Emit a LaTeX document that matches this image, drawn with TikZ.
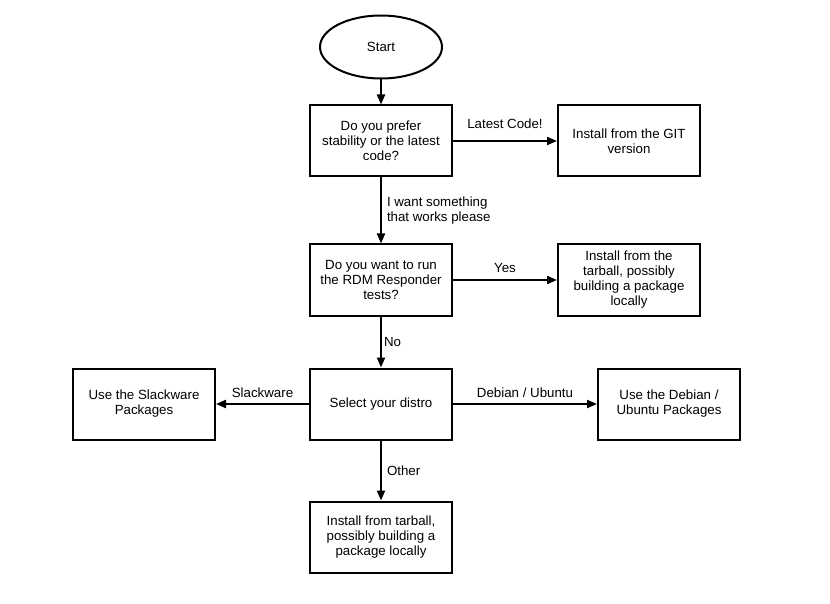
\documentclass[tikz,border=0pt]{standalone}
\usepackage{fontspec}
\setmainfont{Liberation Sans}
\usetikzlibrary{shapes.geometric, arrows.meta, positioning}
\tikzset{
  terminal/.style={ellipse,draw=black,line width=2pt,fill=white,minimum width=122pt,minimum height=63pt,font=\fontsize{13.3}{15}\selectfont},
  action/.style={rectangle,draw=black,line width=2pt,fill=white,minimum width=142pt,minimum height=71pt,align=center,font=\fontsize{13.3}{15}\selectfont},
  flow/.style={line width=2pt,-{Triangle[length=10pt,width=8pt]}},
  flowlabel/.style={font=\fontsize{13.3}{15}\selectfont,inner sep=2pt},
}

\begin{document}
\begin{tikzpicture}
	    \useasboundingbox[fill=white] (0,0) rectangle (830pt,-604pt);
	    \node[terminal] (start) at (381pt,-47pt) {Start};
	    \node[action,below=25pt of start] (prefer) {Do you prefer\\stability or the latest\\code?};
	    \node[action,right=104pt of prefer] (git) {Install from the GIT\\version};
	    \node[action,below=66pt of prefer] (tests) {Do you want to run\\the RDM Responder\\tests?};
	    \node[action,right=104pt of tests] (tarball) {Install from the\\tarball, possibly\\building a package\\locally};
	    \node[action,below=51pt of tests] (distro) {Select your distro};
	    \node[action,left=93pt of distro] (slack) {Use the Slackware\\Packages};
	    \node[action,right=144pt of distro] (debian) {Use the Debian /\\Ubuntu Packages};
	    \node[action,below=60pt of distro] (local) {Install from tarball,\\possibly building a\\package locally};
	    \draw[flow] (start) -- (prefer);
	    \draw[flow] (prefer) -- node[flowlabel,above=9pt] {Latest Code!} (git);
	    \draw[flow] (prefer) -- node[flowlabel,right=3pt,align=left] {I want something\\that works please} (tests);
	    \draw[flow] (tests) -- node[flowlabel,above=4pt] {Yes} (tarball);
	    \draw[flow] (tests) -- node[flowlabel,right] {No} (distro);
	    \draw[flow] (distro) -- node[flowlabel,above=3pt] {Slackware} (slack);
	    \draw[flow] (distro) -- node[flowlabel,above=3pt] {Debian / Ubuntu} (debian);
	    \draw[flow] (distro) -- node[flowlabel,right=3pt] {Other} (local);
	\end{tikzpicture}
\end{document}
